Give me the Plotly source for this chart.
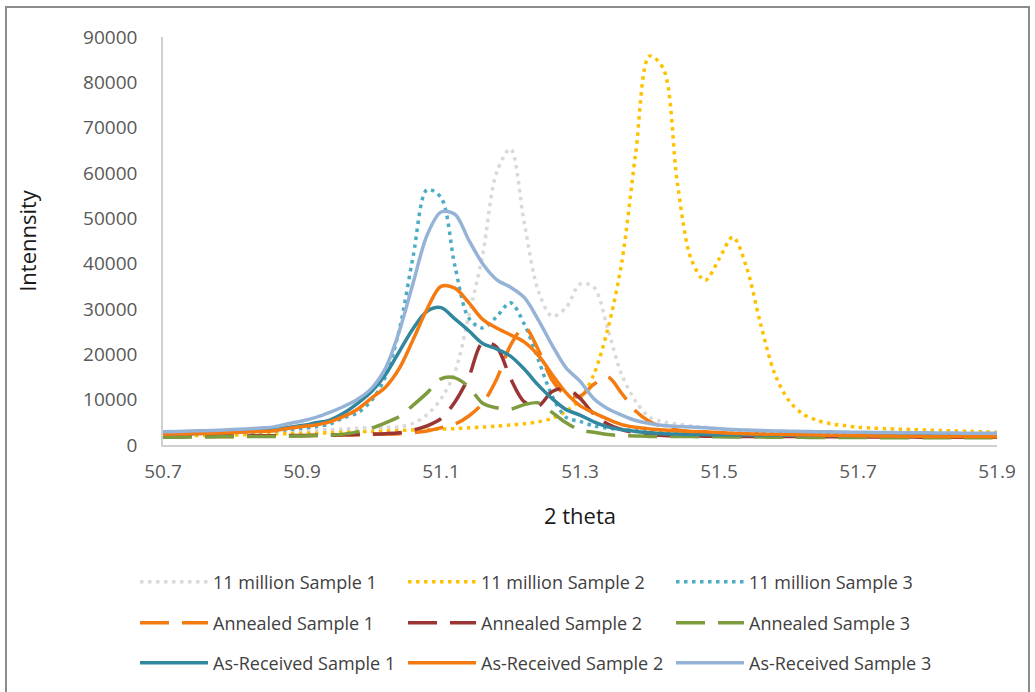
import plotly.graph_objects as go

# Diffraction angle (2 theta, degrees)
two_theta = [50.70, 50.72, 50.74, 50.76, 50.78, 50.80, 50.82, 50.84, 50.86, 50.88,
             50.90, 50.92, 50.94, 50.96, 50.98, 51.00, 51.02, 51.04, 51.06, 51.08,
             51.10, 51.12, 51.14, 51.16, 51.18, 51.20, 51.22, 51.24, 51.26, 51.28,
             51.30, 51.32, 51.34, 51.36, 51.38, 51.40, 51.42, 51.44, 51.46, 51.48,
             51.50, 51.52, 51.54, 51.56, 51.58, 51.60, 51.62, 51.64, 51.66, 51.68,
             51.70, 51.72, 51.74, 51.76, 51.78, 51.80, 51.82, 51.84, 51.86, 51.88,
             51.90]

# Intensity counts per sample
million_s1 = [2500, 2550, 2600, 2650, 2700, 2750, 2800, 2900, 3000, 3100,
              3200, 3300, 3400, 3500, 3700, 3800, 3900, 4000, 4800, 6700,
              10200, 16100, 28500, 42000, 60100, 65300, 48800, 34000, 28400, 30300,
              35500, 34800, 25600, 15500, 9700, 6100, 5100, 4600, 4200, 3900,
              3600, 3400, 3200, 3000, 2900, 2800, 2750, 2700, 2700, 2650,
              2650, 2600, 2600, 2550, 2550, 2500, 2500, 2450, 2450, 2400,
              2400]
million_s2 = [1900, 2000, 2050, 2100, 2150, 2200, 2250, 2300, 2400, 2500,
              2550, 2600, 2700, 2800, 2900, 3000, 3100, 3200, 3300, 3400,
              3500, 3600, 3800, 3950, 4150, 4400, 4700, 5100, 5900, 7500,
              10000, 15600, 25600, 40200, 64200, 85800, 83000, 57900, 41000, 36300,
              41000, 45900, 39000, 26600, 15800, 9900, 6900, 5500, 4700, 4300,
              3900, 3750, 3600, 3500, 3400, 3300, 3200, 3100, 3000, 2900,
              2800]
million_s3 = [2500, 2550, 2600, 2650, 2700, 2800, 2850, 2950, 3100, 3400,
              3700, 4100, 4600, 6000, 7100, 9800, 15000, 25400, 41700, 56300,
              54600, 39500, 28000, 25800, 28300, 31400, 26600, 18800, 10800, 6100,
              5200, 4200, 3700, 3400, 3200, 3000, 2900, 2800, 2750, 2700,
              2650, 2600, 2600, 2550, 2550, 2500, 2500, 2450, 2450, 2400,
              2400, 2400, 2350, 2350, 2300, 2300, 2300, 2250, 2250, 2200,
              2200]
annealed_s1 = [1800, 1800, 1850, 1850, 1900, 1900, 1950, 1950, 2000, 2000,
               2050, 2100, 2150, 2200, 2250, 2300, 2400, 2500, 2700, 3100,
               3800, 4600, 6400, 9200, 14500, 22000, 26000, 21000, 14300, 11000,
               10800, 13400, 15000, 11400, 7500, 5200, 4000, 3300, 2900, 2700,
               2500, 2400, 2300, 2200, 2150, 2100, 2050, 2050, 2000, 2000,
               1950, 1950, 1900, 1900, 1900, 1850, 1850, 1850, 1800, 1800,
               1800]
annealed_s2 = [1900, 1900, 1950, 1950, 2000, 2000, 2000, 2050, 2050, 2100,
               2100, 2150, 2200, 2250, 2300, 2400, 2500, 2700, 3300, 4200,
               5800, 9500, 15000, 22600, 21600, 14700, 9500, 8600, 11800, 12500,
               10300, 6800, 4600, 3400, 2700, 2300, 2100, 2000, 2000, 1950,
               1950, 1900, 1900, 1900, 1850, 1850, 1850, 1800, 1800, 1800,
               1800, 1750, 1750, 1750, 1750, 1700, 1700, 1700, 1700, 1700,
               1700]
annealed_s3 = [1700, 1700, 1750, 1750, 1800, 1800, 1850, 1900, 1900, 1950,
               2000, 2100, 2200, 2400, 2900, 3700, 4900, 6300, 8800, 11500,
               14600, 14800, 12800, 9200, 8200, 7900, 8900, 9300, 7200, 4900,
               3300, 2800, 2300, 2100, 2000, 1900, 1900, 1850, 1850, 1800,
               1800, 1750, 1750, 1750, 1700, 1700, 1700, 1650, 1650, 1650,
               1650, 1650, 1600, 1600, 1600, 1600, 1600, 1600, 1600, 1600,
               1600]
as_received_s1 = [2360, 2450, 2500, 2570, 2700, 2850, 3000, 3200, 3450, 3850,
                  4300, 4900, 5500, 7050, 9200, 11800, 15500, 20600, 25700, 29500,
                  30300, 27800, 25200, 22400, 21200, 19600, 16700, 13200, 10200, 7800,
                  6600, 5100, 4000, 3400, 3000, 2700, 2500, 2400, 2300, 2300,
                  2250, 2250, 2200, 2200, 2200, 2150, 2150, 2150, 2100, 2100,
                  2100, 2100, 2050, 2050, 2050, 2050, 2000, 2000, 2000, 2000,
                  2000]
as_received_s2 = [2360, 2420, 2480, 2560, 2650, 2750, 2850, 3000, 3150, 3650,
                  4050, 4430, 5100, 6300, 7900, 10350, 12750, 16900, 23300, 30000,
                  35000, 34600, 31400, 27700, 25800, 24300, 22700, 19800, 15500, 11500,
                  8700, 7100, 5700, 4500, 3900, 3550, 3300, 3150, 3000, 2900,
                  2750, 2600, 2500, 2400, 2350, 2300, 2250, 2200, 2150, 2100,
                  2050, 2000, 2000, 1950, 1950, 1900, 1900, 1850, 1850, 1850,
                  1800]
as_received_s3 = [2930, 3000, 3080, 3160, 3250, 3400, 3550, 3750, 4000, 4700,
                  5300, 6100, 7200, 8500, 10100, 12500, 16900, 25100, 35800, 46300,
                  51400, 50900, 45200, 40000, 36500, 34800, 32500, 27600, 22000, 17000,
                  14100, 10200, 8000, 6600, 5400, 4750, 4300, 4100, 3950, 3800,
                  3600, 3400, 3300, 3200, 3100, 3050, 3000, 2950, 2900, 2850,
                  2800, 2780, 2750, 2720, 2700, 2680, 2650, 2630, 2600, 2600,
                  2580]

x_ticks = [50.7, 50.9, 51.1, 51.3, 51.5, 51.7, 51.9]
y_ticks = [0, 10000, 20000, 30000, 40000, 50000, 60000, 70000, 80000, 90000]

DOT = "3.5px,4.5px"
LONG_DASH = "29px,13px"

series = [
    ("11 million Sample 1", million_s1, "#D9D9D9", DOT, "legend"),
    ("11 million Sample 2", million_s2, "#FFC000", DOT, "legend"),
    ("11 million Sample 3", million_s3, "#4BACC6", DOT, "legend"),
    ("Annealed Sample 1", annealed_s1, "#F57A10", LONG_DASH, "legend2"),
    ("Annealed Sample 2", annealed_s2, "#9B3535", LONG_DASH, "legend2"),
    ("Annealed Sample 3", annealed_s3, "#7D9C3E", LONG_DASH, "legend2"),
    ("As-Received Sample 1", as_received_s1, "#31879E", "solid", "legend3"),
    ("As-Received Sample 2", as_received_s2, "#F57A10", "solid", "legend3"),
    ("As-Received Sample 3", as_received_s3, "#95B3D7", "solid", "legend3"),
]

fig = go.Figure()
for name, values, color, dash, leg in series:
    fig.add_trace(go.Scatter(
        x=two_theta, y=values, name=name, mode="lines",
        line=dict(color=color, width=3.5, dash=dash, shape="spline", smoothing=0.9),
        legend=leg,
    ))

W, H = 1035, 692
L, R, T, B = 163, 38, 37, 247
plot_w = W - L - R
plot_h = H - T - B


def px_x(px):
    return (px - L) / plot_w


def px_y(py):
    return (H - B - py) / plot_h


legend_common = dict(
    orientation="h", xanchor="left", yanchor="middle",
    x=px_x(135), entrywidth=185, entrywidthmode="pixels", itemwidth=68,
    font=dict(family="Open Sans", size=18, color="#404040"),
    bgcolor="rgba(0,0,0,0)", traceorder="normal",
)

fig.update_layout(
    width=W, height=H,
    margin=dict(l=L, r=R, t=T, b=B, autoexpand=False),
    paper_bgcolor="white", plot_bgcolor="white",
    font=dict(family="Open Sans", color="#595959"),
    showlegend=True,
    legend=dict(legend_common, y=px_y(582)),
    legend2=dict(legend_common, y=px_y(623)),
    legend3=dict(legend_common, y=px_y(663)),
    xaxis=dict(
        range=[50.7, 51.9], tickvals=x_ticks, ticktext=[f"{v:.1f}" for v in x_ticks],
        showgrid=False, zeroline=False, ticks="",
        showline=True, linecolor="#D0D0D0", linewidth=2,
        tickfont=dict(family="Open Sans", size=19, color="#595959"),
        ticklabelstandoff=8,
        title=dict(text="2 theta", font=dict(family="Open Sans", size=22, color="#1a1a1a"),
                   standoff=26),
    ),
    yaxis=dict(
        range=[0, 90000], tickvals=y_ticks, ticktext=[str(v) for v in y_ticks],
        showgrid=False, zeroline=False, ticks="",
        showline=True, linecolor="#D0D0D0", linewidth=1.5,
        tickfont=dict(family="Open Sans", size=19, color="#595959"),
        ticklabelstandoff=20,
        title=dict(text="Intennsity", font=dict(family="Open Sans", size=22, color="#1a1a1a"),
                   standoff=40),
    ),
    shapes=[dict(
        type="rect", xref="paper", yref="paper", layer="below",
        x0=px_x(6), x1=px_x(1029), y0=px_y(705), y1=px_y(7),
        line=dict(color="#8C8C8C", width=2), fillcolor="rgba(0,0,0,0)",
    )],
)

fig.write_html("out.html")
